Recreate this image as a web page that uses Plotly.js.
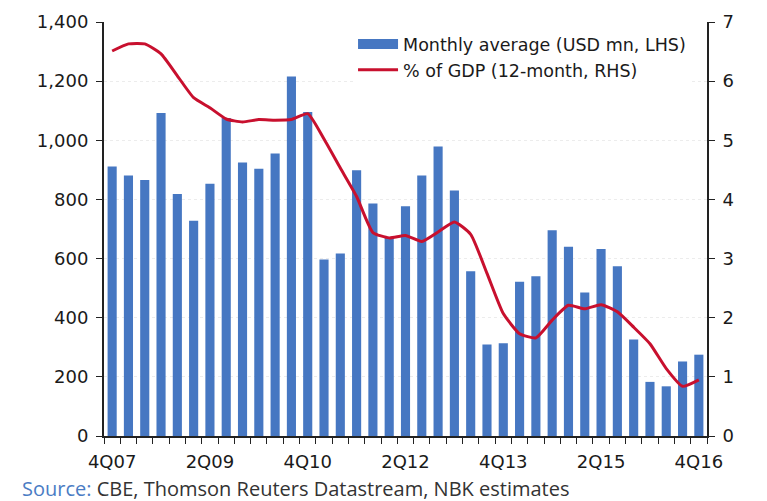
<!DOCTYPE html>
<html><head><meta charset="utf-8">
<script src="https://cdn.plot.ly/plotly-3.0.1.min.js"></script>
<style>html,body{margin:0;padding:0;background:#fff}#chart{width:767px;height:501px}</style>
</head><body><div id="chart"></div>
<script>
const quarters = ["4Q07","1Q08","2Q08","3Q08","4Q08","1Q09","2Q09","3Q09","4Q09","1Q10","2Q10","3Q10","4Q10","1Q11","2Q11","3Q11","4Q11","1Q12","2Q12","3Q12","4Q12","1Q13","2Q13","3Q13","4Q13","1Q14","2Q14","3Q14","4Q14","1Q15","2Q15","3Q15","4Q15","1Q16","2Q16","3Q16","4Q16"];
const monthlyAvg = [911,881,866,1092,818,728,853,1075,925,904,955,1216,1096,597,617,899,786,670,777,881,979,830,557,309,314,522,540,696,640,485,632,574,326,183,168,252,275];
const pctGDP = [6.51,6.63,6.63,6.46,6.09,5.72,5.55,5.36,5.31,5.35,5.34,5.35,5.45,5.02,4.53,4.05,3.44,3.35,3.39,3.29,3.45,3.62,3.41,2.75,2.07,1.73,1.66,1.96,2.21,2.15,2.22,2.10,1.84,1.56,1.14,0.84,0.95];
const labelEvery = ["4Q07","2Q09","4Q10","2Q12","4Q13","2Q15","4Q16"];
const tickText = quarters.map(q => labelEvery.includes(q) ? q : "");
const barName = "Monthly average (USD mn, LHS)";
const lineName = "% of GDP (12-month, RHS)";
const barColor = "#4677C2";
const lineColor = "#C8102E";

const font = {family: "DejaVu Sans, sans-serif", color: "#1a1a1a"};
const tf = Object.assign({size: 18}, font);
const data = [
  {type: "bar", x: quarters, y: monthlyAvg, name: barName, showlegend: false,
   marker: {color: barColor}, yaxis: "y"},
  {type: "scatter", mode: "lines", x: [null], y: [null], name: barName,
   line: {color: barColor, width: 13}, yaxis: "y", hoverinfo: "skip"},
  {type: "scatter", mode: "lines", x: quarters, y: pctGDP, name: lineName,
   line: {color: lineColor, width: 3, shape: "spline", smoothing: 0.5}, yaxis: "y2"}
];
const layout = {
  width: 767, height: 501,
  margin: {l: 104, r: 60, t: 22, b: 65},
  paper_bgcolor: "#fff", plot_bgcolor: "#fff",
  font: Object.assign({size: 17}, font),
  bargap: 0.44,
  showlegend: true,
  legend: {x: 0.413, y: 0.99, xanchor: "left", yanchor: "top", bgcolor: "#fff",
           font: Object.assign({size: 17.5}, font), itemwidth: 40, tracegroupgap: 0,
           traceorder: "normal"},
  xaxis: {type: "category", tickvals: quarters, ticktext: tickText, tickson: "boundaries",
          ticks: "outside", ticklen: 6, tickcolor: "#222", showline: true, linecolor: "#222",
          linewidth: 2, showgrid: false, tickangle: 0, tickfont: tf, ticklabelstandoff: 8,
          range: [-0.5, 36.5]},
  yaxis: {range: [0, 1400], dtick: 200, tickformat: ",", ticks: "outside", ticklen: 6,
          tickcolor: "#222", showline: true, linecolor: "#222", linewidth: 2,
          showgrid: true, gridcolor: "#ececec", griddash: "dot", zeroline: false,
          tickfont: tf, ticklabelstandoff: 4},
  yaxis2: {range: [0, 7], dtick: 1, overlaying: "y", side: "right", ticks: "outside",
           ticklen: 6, tickcolor: "#222", showline: true, linecolor: "#222", linewidth: 2,
           showgrid: false, zeroline: false, tickfont: tf, ticklabelstandoff: 4},
  annotations: [{xref: "paper", yref: "paper", x: -0.14, y: -0.128, xanchor: "left", yanchor: "middle",
    showarrow: false, align: "left",
    text: "<span style='color:#4a7cc4'>Source:</span> CBE, Thomson Reuters Datastream, NBK estimates",
    font: {family: "Liberation Sans Narrow, Open Sans, sans-serif", size: 20, color: "#333"}}]
};
Plotly.newPlot("chart", data, layout, {displayModeBar: false, staticPlot: true});
</script></body></html>
